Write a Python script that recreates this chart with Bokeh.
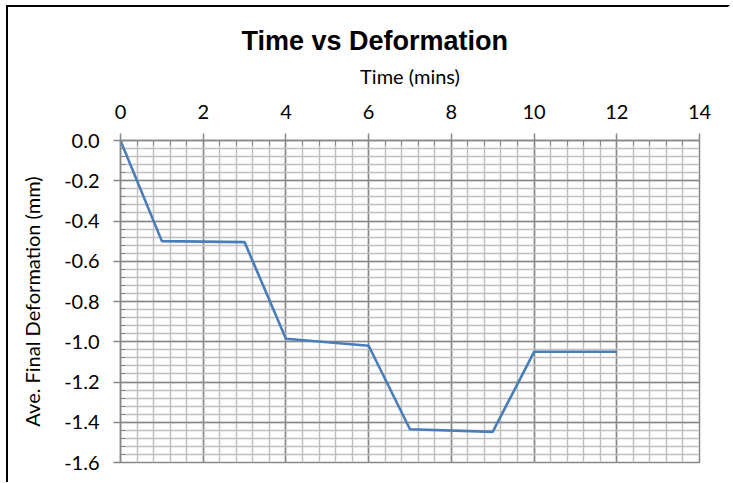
from bokeh.plotting import figure
from bokeh.models import Range1d, FixedTicker, NumeralTickFormatter, Title
from bokeh.embed import file_html
from bokeh.resources import INLINE

# ---- data ----
time_min = [0, 1, 3, 4, 6, 7, 9, 10, 12]
deformation_mm = [0.0, -0.50, -0.505, -0.985, -1.02, -1.435, -1.448, -1.05, -1.05]

x_ticks = [0, 2, 4, 6, 8, 10, 12, 14]
y_ticks = [0.0, -0.2, -0.4, -0.6, -0.8, -1.0, -1.2, -1.4, -1.6]
x_minor = [round(i * 0.4, 2) for i in range(36)]
y_minor = [round(-i * 0.04, 2) for i in range(41)]

title_text = "Time vs Deformation"
x_label = "Time (mins)"
y_label = "Ave. Final Deformation (mm)"

GRID_MAJOR = "#878787"
GRID_MINOR = "#c0c0c0"
LINE_BLUE = "#4a7ebb"
LABEL_FONT = "Lato"

p = figure(
    frame_width=579, frame_height=322,
    min_border_left=112, min_border_top=133, min_border_right=24, min_border_bottom=13,
    x_range=Range1d(0, 14), y_range=Range1d(-1.6, 0),
    x_axis_location="above",
    output_backend="svg", toolbar_location=None,
)
p.styles = {"border-left": "2px solid #000000", "border-top": "2px solid #000000",
            "border-right": "2px solid #ffffff",
            "padding-right": "5px", "padding-bottom": "7px",
            "margin-left": "6px", "margin-top": "5px"}

p.title = Title(text=title_text, align="left", offset=121,
                text_font="Liberation Sans", text_font_size="27px",
                text_font_style="bold", text_color="#000000", standoff=9)

xa = p.xaxis[0]
xa.ticker = FixedTicker(ticks=x_ticks, minor_ticks=x_minor)
xa.axis_label = x_label
ya = p.yaxis[0]
ya.ticker = FixedTicker(ticks=y_ticks, minor_ticks=y_minor)
ya.formatter = NumeralTickFormatter(format="0.0")
ya.axis_label = y_label

for ax in (xa, ya):
    ax.axis_line_color = GRID_MAJOR
    ax.axis_line_width = 1.5
    ax.major_tick_line_color = GRID_MAJOR
    ax.major_tick_line_width = 1.5
    ax.major_tick_out = 7
    ax.major_tick_in = 0
    ax.minor_tick_line_color = GRID_MAJOR
    ax.minor_tick_in = 5
    ax.minor_tick_out = 0
    ax.major_label_text_font = LABEL_FONT
    ax.major_label_text_font_size = "20px"
    ax.major_label_text_color = "#000000"
    ax.axis_label_text_font = LABEL_FONT
    ax.axis_label_text_font_size = "20px"
    ax.axis_label_text_font_style = "normal"
    ax.axis_label_text_color = "#000000"

xa.major_label_standoff = 15
xa.axis_label_standoff = 14
ya.major_label_standoff = 14
ya.axis_label_standoff = 17

for g in (p.xgrid[0], p.ygrid[0]):
    g.grid_line_color = GRID_MAJOR
    g.grid_line_width = 1.5
    g.minor_grid_line_color = GRID_MINOR
    g.minor_grid_line_width = 1.5

p.outline_line_color = GRID_MAJOR
p.outline_line_width = 1.5
p.background_fill_color = "#ffffff"
p.border_fill_color = "#ffffff"

p.line(time_min, deformation_mm, line_color=LINE_BLUE, line_width=2.6)

open("out.html", "w").write(file_html(p, INLINE))
